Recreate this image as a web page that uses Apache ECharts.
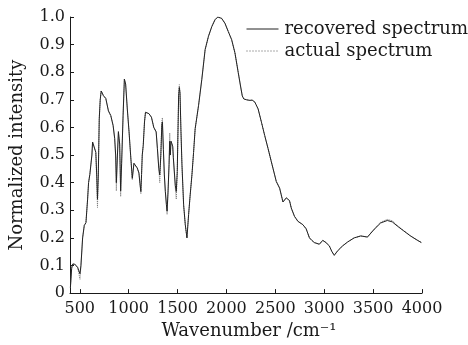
<!DOCTYPE html>
<html>
<head>
<meta charset="utf-8">
<script src="https://cdn.jsdelivr.net/npm/echarts/dist/echarts.min.js"></script>
<style>
  html, body { margin: 0; padding: 0; background: #fff; }
  #chart { width: 468px; height: 345px; }
</style>
</head>
<body>
<div id="chart"></div>
<script>
// wavenumber (cm-1) of every sampled point
const wavenumbers = [
  404, 417, 427, 448, 478, 502, 512, 529, 546, 563, 580, 590, 603, 615, 624, 631, 648, 664, 674, 681,
  689, 699, 709, 719, 742, 766, 793, 817, 841, 857, 867, 874, 885, 895, 908, 918, 928, 943, 956, 969,
  986, 1004, 1020, 1037, 1054, 1071, 1088, 1105, 1115, 1125, 1132, 1139, 1149, 1162, 1172, 1207, 1233, 1257, 1281, 1294,
  1308, 1318, 1329, 1339, 1345, 1355, 1365, 1375, 1386, 1393, 1403, 1413, 1420, 1426, 1433, 1443, 1451, 1457, 1477, 1487,
  1497, 1504, 1511, 1518, 1525, 1535, 1545, 1562, 1579, 1596, 1613, 1629, 1647, 1664, 1680, 1715, 1748, 1782, 1816, 1850,
  1883, 1911, 1951, 1985, 2019, 2053, 2087, 2121, 2144, 2162, 2178, 2195, 2208, 2223, 2239, 2263, 2290, 2307, 2324, 2358,
  2391, 2426, 2459, 2493, 2510, 2544, 2578, 2595, 2612, 2629, 2645, 2663, 2696, 2731, 2749, 2781, 2815, 2849, 2876, 2899,
  2950, 2985, 3018, 3052, 3079, 3103, 3137, 3188, 3239, 3306, 3374, 3442, 3509, 3577, 3645, 3696, 3747, 3814, 3882, 3950,
  3994
];

// recovered spectrum (solid)
const recovered = [
  0.02, 0.09, 0.105, 0.105, 0.093, 0.07, 0.10, 0.20, 0.245, 0.255, 0.34, 0.40, 0.43, 0.43, 0.50, 0.547, 0.545, 0.51, 0.42, 0.34,
  0.42, 0.63, 0.70, 0.732, 0.715, 0.705, 0.66, 0.643, 0.607, 0.56, 0.50, 0.40, 0.50, 0.585, 0.54, 0.37, 0.47, 0.643, 0.775, 0.757,
  0.667, 0.584, 0.50, 0.416, 0.47, 0.465, 0.453, 0.435, 0.398, 0.368, 0.43, 0.50, 0.535, 0.62, 0.655, 0.65, 0.637, 0.60, 0.584, 0.523,
  0.452, 0.428, 0.50, 0.61, 0.62, 0.52, 0.428, 0.368, 0.32, 0.297, 0.37, 0.465, 0.55, 0.50, 0.55, 0.54, 0.53, 0.49, 0.39, 0.368,
  0.44, 0.58, 0.714, 0.745, 0.725, 0.584, 0.465, 0.32, 0.248, 0.20, 0.284, 0.355, 0.428, 0.51, 0.595, 0.68, 0.774, 0.882, 0.93, 0.965,
  0.99, 1.0, 0.995, 0.977, 0.947, 0.918, 0.87, 0.798, 0.75, 0.714, 0.703, 0.708, 0.70, 0.705, 0.698, 0.699, 0.692, 0.685, 0.667, 0.619,
  0.571, 0.523, 0.476, 0.428, 0.404, 0.38, 0.33, 0.33, 0.345, 0.35, 0.335, 0.308, 0.278, 0.26, 0.255, 0.248, 0.233, 0.20, 0.19, 0.183,
  0.177, 0.191, 0.183, 0.171, 0.15, 0.137, 0.153, 0.171, 0.185, 0.20, 0.207, 0.203, 0.23, 0.254, 0.263, 0.258, 0.243, 0.225, 0.207, 0.192,
  0.183
];

// actual spectrum (dotted)
const actual = [
  0.02, 0.09, 0.105, 0.105, 0.093, 0.05, 0.10, 0.20, 0.245, 0.255, 0.34, 0.40, 0.43, 0.43, 0.50, 0.547, 0.545, 0.51, 0.40, 0.31,
  0.42, 0.63, 0.70, 0.732, 0.715, 0.705, 0.66, 0.643, 0.607, 0.56, 0.49, 0.37, 0.50, 0.58, 0.54, 0.35, 0.47, 0.643, 0.775, 0.757,
  0.667, 0.584, 0.50, 0.41, 0.47, 0.465, 0.453, 0.435, 0.398, 0.36, 0.43, 0.50, 0.535, 0.62, 0.655, 0.65, 0.637, 0.60, 0.584, 0.523,
  0.452, 0.40, 0.50, 0.62, 0.635, 0.52, 0.428, 0.368, 0.32, 0.285, 0.37, 0.465, 0.58, 0.50, 0.55, 0.54, 0.53, 0.49, 0.38, 0.34,
  0.44, 0.58, 0.714, 0.755, 0.725, 0.584, 0.465, 0.32, 0.248, 0.20, 0.284, 0.355, 0.428, 0.51, 0.595, 0.68, 0.774, 0.882, 0.93, 0.965,
  0.99, 1.0, 0.995, 0.977, 0.947, 0.918, 0.87, 0.798, 0.75, 0.714, 0.703, 0.708, 0.70, 0.705, 0.698, 0.699, 0.692, 0.685, 0.667, 0.619,
  0.571, 0.523, 0.476, 0.428, 0.404, 0.38, 0.33, 0.33, 0.345, 0.35, 0.335, 0.308, 0.278, 0.26, 0.255, 0.248, 0.233, 0.20, 0.19, 0.183,
  0.177, 0.191, 0.183, 0.171, 0.15, 0.137, 0.153, 0.171, 0.185, 0.20, 0.207, 0.203, 0.232, 0.257, 0.267, 0.262, 0.245, 0.226, 0.208, 0.192,
  0.183
];

const xTicks = [500, 1000, 1500, 2000, 2500, 3000, 3500, 4000];
const seriesNames = ['recovered spectrum', 'actual spectrum'];

const serif = 'DejaVu Serif';
const ink = '#1a1a1a';

function pairs(ys) {
  return wavenumbers.map((w, i) => [w, ys[i]]);
}

const chart = echarts.init(document.getElementById('chart'));

chart.setOption({
  animation: false,
  backgroundColor: '#fff',
  grid: { left: 67, right: 46, top: 17, bottom: 49 },
  legend: {
    data: [
      { name: seriesNames[0], lineStyle: { width: 1, type: 'solid', color: '#222' } },
      { name: seriesNames[1], lineStyle: { width: 1, type: [1, 2], color: '#555' } }
    ],
    orient: 'vertical',
    left: 241,
    top: 15,
    itemWidth: 32,
    itemHeight: 11,
    itemGap: 4,
    itemStyle: { opacity: 0 },
    textStyle: { fontFamily: serif, fontSize: 18, color: ink, padding: [0, 0, 0, 1] }
  },
  xAxis: {
    type: 'value',
    min: 400,
    max: 4000,
    name: 'Wavenumber /cm⁻¹',
    nameLocation: 'middle',
    nameGap: 26,
    nameTextStyle: { fontFamily: serif, fontSize: 18, color: ink, padding: [0, 0, 0, 6] },
    axisLine: { lineStyle: { color: ink, width: 1 } },
    axisTick: { inside: true, length: 4, customValues: xTicks, lineStyle: { color: ink } },
    axisLabel: {
      customValues: xTicks, fontFamily: serif, fontSize: 16, color: ink, margin: 8,
      formatter: v => String(v)
    },
    splitLine: { show: false }
  },
  yAxis: {
    type: 'value',
    min: 0,
    max: 1,
    interval: 0.1,
    name: 'Normalized intensity',
    nameLocation: 'middle',
    nameGap: 44,
    nameTextStyle: { fontFamily: serif, fontSize: 18, color: ink },
    axisLine: { show: true, lineStyle: { color: ink, width: 1 } },
    axisTick: { show: true, inside: true, length: 4, lineStyle: { color: ink } },
    axisLabel: {
      fontFamily: serif, fontSize: 16, color: ink, margin: 5,
      formatter: v => (v === 0 ? '0' : v.toFixed(1))
    },
    splitLine: { show: false }
  },
  series: [
    {
      name: seriesNames[1],
      type: 'line',
      data: pairs(actual),
      symbol: 'none',
      lineStyle: { color: '#777', width: 1, type: 'dotted' },
      itemStyle: { color: '#777' },
      z: 1
    },
    {
      name: seriesNames[0],
      type: 'line',
      data: pairs(recovered),
      symbol: 'none',
      lineStyle: { color: '#222', width: 1 },
      itemStyle: { color: '#222' },
      z: 2
    }
  ]
});
</script>
</body>
</html>
